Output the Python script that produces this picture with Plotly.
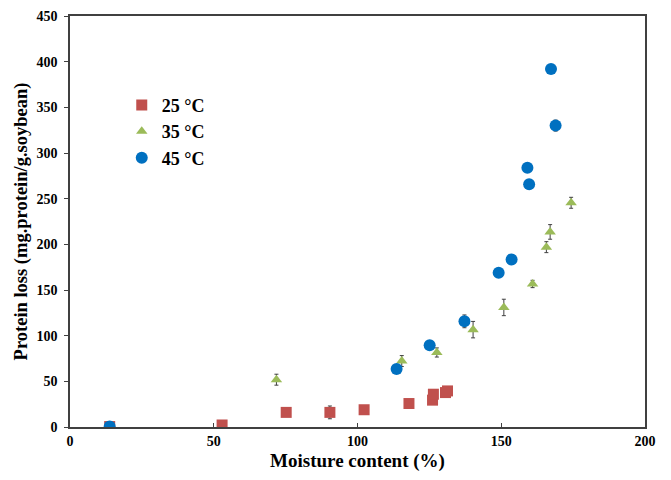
import plotly.graph_objects as go

# 25 °C
x25 = [13.8, 52.9, 75.2, 90.4, 102.3, 117.9, 126.1, 126.4, 130.6, 131.3]
y25 = [0.5, 2.2, 16.0, 16.0, 18.9, 25.7, 29.4, 35.9, 37.7, 39.5]
e25 = [2, 1, 3, 7, 2, 2, 2, 2, 5, 3]
# 35 °C
x35 = [13.8, 71.8, 115.4, 127.6, 140.2, 150.9, 160.9, 165.7, 167.0, 174.3]
y35 = [0.5, 51.8, 72.2, 81.6, 106.6, 130.9, 156.6, 196.9, 213.6, 245.5]
e35 = [3, 6, 6, 5, 9, 9, 4, 6, 8, 6]
# 45 °C
x45 = [13.8, 113.6, 125.1, 137.2, 149.1, 153.6, 159.1, 159.7, 167.3, 168.9]
y45 = [0.5, 63.5, 89.6, 115.7, 169.0, 183.5, 283.9, 265.8, 392.0, 330.0]
e45 = [5, 2, 4, 7, 2, 4, 4, 2, 2, 6]

xticks = [0, 50, 100, 150, 200]
yticks = [0, 50, 100, 150, 200, 250, 300, 350, 400, 450]

font_family = "Liberation Serif"
err_style = dict(type="data", thickness=1, width=2, color="#404040")

fig = go.Figure()
fig.add_trace(go.Scatter(x=x25, y=y25, mode="markers", name="25 °C",
                         error_y=dict(array=e25, **err_style),
                         marker=dict(symbol="square", size=11, color="#C0504D")))
fig.add_trace(go.Scatter(x=x35, y=y35, mode="markers", name="35 °C",
                         error_y=dict(array=e35, **err_style),
                         marker=dict(symbol="triangle-up", size=10, color="#9BBB59")))
fig.add_trace(go.Scatter(x=x45, y=y45, mode="markers", name="45 °C",
                         error_y=dict(array=e45, **err_style),
                         marker=dict(symbol="circle", size=12, color="#0070C0")))

fig.update_layout(
    width=671, height=480,
    margin=dict(l=70, r=26, t=16, b=53),
    paper_bgcolor="white", plot_bgcolor="white",
    font=dict(family=font_family, color="black"),
    showlegend=True,
    legend=dict(x=0.09, y=0.828, xanchor="left", yanchor="top",
                bgcolor="rgba(0,0,0,0)",
                font=dict(family=font_family, size=18, color="black", weight="bold"),
                itemwidth=30, tracegroupgap=0),
    xaxis=dict(range=[0, 200], tickvals=xticks, showgrid=False, zeroline=False,
               showline=True, mirror=True, linecolor="#404040", linewidth=1.5,
               ticks="inside", ticklen=4, tickcolor="#404040", automargin=False,
               tickfont=dict(family=font_family, size=14, color="black", weight="bold"),
               title=dict(text="Moisture content (%)", standoff=6,
                          font=dict(family=font_family, size=19, color="black", weight="bold"))),
    yaxis=dict(range=[0, 450], tickvals=yticks, showgrid=False, zeroline=False,
               showline=True, mirror=True, linecolor="#404040", linewidth=1.5,
               ticks="outside", ticklen=4, tickcolor="#404040", automargin=False,
               ticklabelstandoff=4,
               tickfont=dict(family=font_family, size=14, color="black", weight="bold"),
               title=dict(text="Protein loss (mg.protein/g.soybean)", standoff=4,
                          font=dict(family=font_family, size=18.5, color="black", weight="bold"))),
)

fig.write_html("out.html")
